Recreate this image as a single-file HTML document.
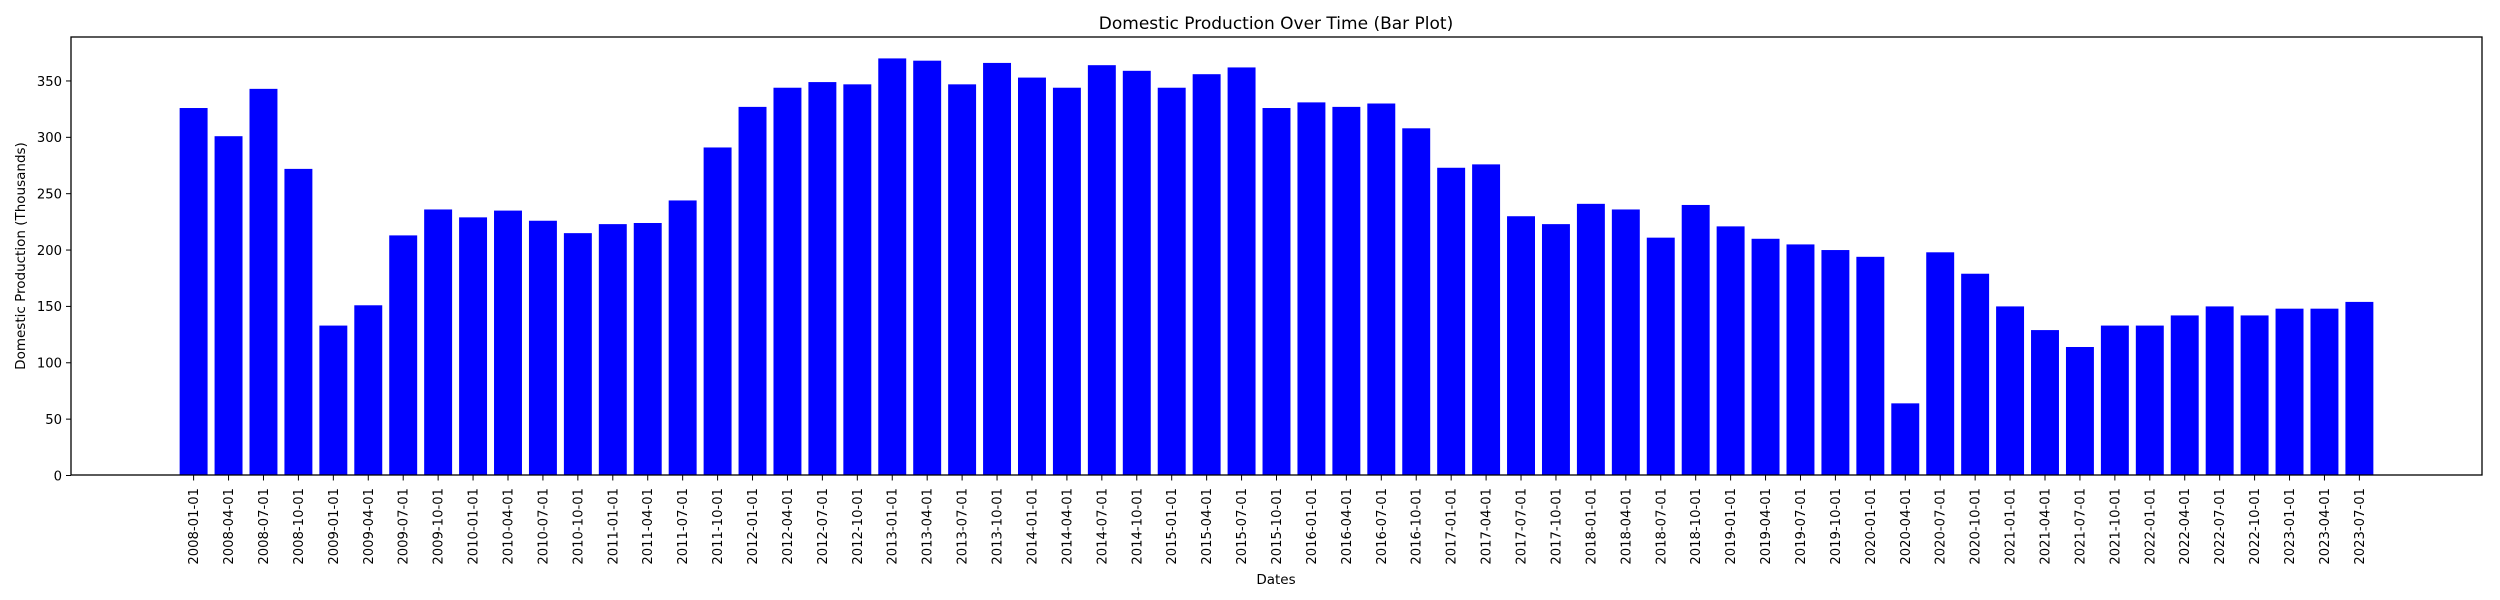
<!DOCTYPE html>
<html><head><meta charset="utf-8"><style>
body{margin:0;background:#fff}
svg{display:block;font-family:"DejaVu Sans","Liberation Sans",sans-serif}
</style></head><body>
<svg id="chart" width="2500" height="600" viewBox="0 0 2500 600">
<rect width="2500" height="600" fill="#fff"/>
<g id="bars"></g>
<g id="xticks"></g>
<g id="yticks"></g>
<rect x="71" y="37" width="2411" height="438" fill="none" stroke="#000" stroke-width="1.3"/>
<text x="1276" y="29" font-size="17" text-anchor="middle">Domestic Production Over Time (Bar Plot)</text>
<text x="1276" y="584" font-size="13.5" text-anchor="middle">Dates</text>
<text transform="translate(25,256) rotate(-90)" font-size="13.5" text-anchor="middle">Domestic Production (Thousands)</text>
</svg>
<script>
const categories = [];
for (let y = 2008; y <= 2023; y++) for (const m of ["01","04","07","10"]) categories.push(y + "-" + m + "-01");
categories.length = 63;
const values = [326,301,343,272,133,151,213,236,229,235,226,215,223,224,244,291,327,344,349,347,370,368,347,366,353,344,364,359,344,356,362,326,331,327,330,308,273,276,230,223,241,236,211,240,221,210,205,200,194,64,198,179,150,129,114,133,133,142,150,142,148,148,154];
const yTicks = [0,50,100,150,200,250,300,350];

const NS = "http://www.w3.org/2000/svg";
const x0 = 71, x1 = 2482, yBase = 475.5, yTop = 37;
const xMin = -3.51, xMax = categories.length - 1 + 3.51;
const yMax = 389;
const xs = i => x0 + (i - xMin) / (xMax - xMin) * (x1 - x0);
const ys = v => yBase - v / yMax * (yBase - yTop);
const bw = (xs(1) - xs(0)) * 0.8;

const bars = document.getElementById("bars");
const xt = document.getElementById("xticks");
const yt = document.getElementById("yticks");
values.forEach((v, i) => {
  const r = document.createElementNS(NS, "rect");
  r.setAttribute("x", xs(i) - bw / 2);
  r.setAttribute("y", ys(v));
  r.setAttribute("width", bw);
  r.setAttribute("height", yBase - ys(v));
  r.setAttribute("fill", "#0000ff");
  
  
  bars.appendChild(r);
});
categories.forEach((c, i) => {
  const l = document.createElementNS(NS, "line");
  l.setAttribute("x1", xs(i)); l.setAttribute("x2", xs(i));
  l.setAttribute("y1", yBase); l.setAttribute("y2", yBase + 5);
  l.setAttribute("stroke", "#000");
  
  
  xt.appendChild(l);
  const t = document.createElementNS(NS, "text");
  t.setAttribute("transform", "translate(" + (xs(i) + 4.5) + "," + 488 + ") rotate(-90)");
  t.setAttribute("font-size", "13.2");
  t.setAttribute("text-anchor", "end");
  t.textContent = c;
  
  
  xt.appendChild(t);
});
yTicks.forEach(v => {
  const l = document.createElementNS(NS, "line");
  l.setAttribute("x1", x0 - 5); l.setAttribute("x2", x0);
  l.setAttribute("y1", ys(v)); l.setAttribute("y2", ys(v));
  l.setAttribute("stroke", "#000");
  
  
  yt.appendChild(l);
  const t = document.createElementNS(NS, "text");
  t.setAttribute("x", x0 - 9);
  t.setAttribute("y", ys(v) + 4.8);
  t.setAttribute("font-size", "13.2");
  t.setAttribute("text-anchor", "end");
  t.textContent = v;
  
  
  yt.appendChild(t);
});
</script>
</body></html>
